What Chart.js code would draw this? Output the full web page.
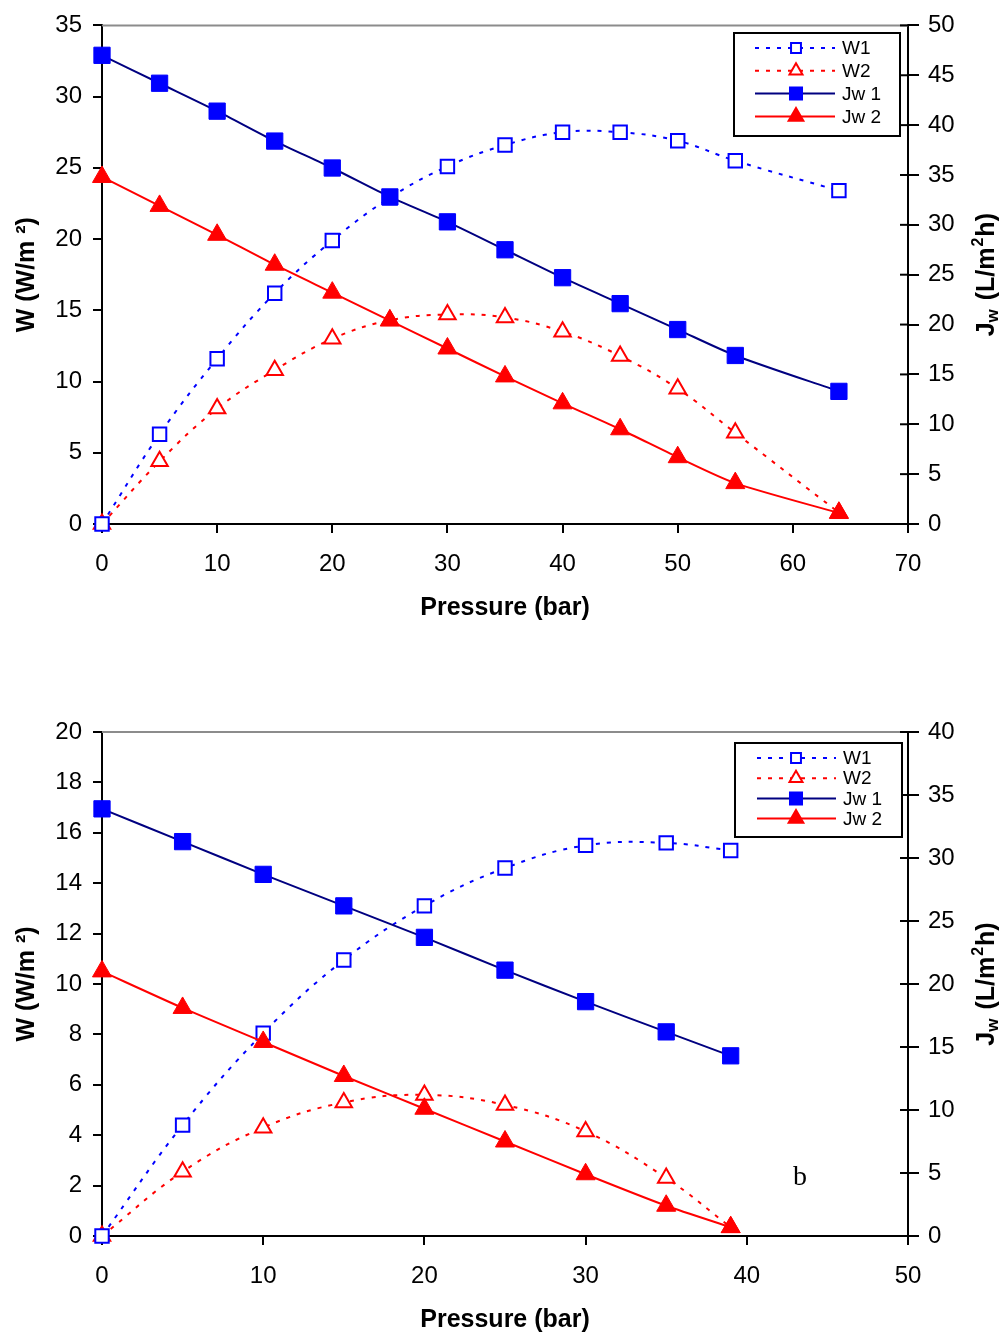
<!DOCTYPE html>
<html><head><meta charset="utf-8">
<script src="https://cdn.jsdelivr.net/npm/chart.js@4.4.1/dist/chart.umd.min.js"></script>
<style>
html,body{margin:0;padding:0;background:#fff;overflow:hidden;width:1003px;height:1336px;}
.wrap{position:absolute;left:0;width:1003px;}
</style></head><body>
<div class="wrap" style="top:0;height:660px"><canvas id="c1"></canvas></div>
<div class="wrap" style="top:700px;height:636px"><canvas id="c2"></canvas></div>
<script>
// ---------- data ----------
const pressureA = [0, 5, 10, 15, 20, 25, 30, 35, 40, 45, 50, 55, 64];
const w1A  = [0, 6.3, 11.6, 16.2, 19.9, 22.9, 25.1, 26.6, 27.5, 27.5, 26.9, 25.5, 23.4];
const w2A  = [0, 4.4, 8.1, 10.8, 13.0, 14.3, 14.7, 14.5, 13.5, 11.8, 9.5, 6.4, 0.8];
const jw1A = [47.0, 44.2, 41.4, 38.4, 35.7, 32.8, 30.3, 27.5, 24.7, 22.1, 19.5, 16.9, 13.3];
const jw2A = [34.8, 31.9, 29.0, 26.0, 23.2, 20.4, 17.6, 14.8, 12.1, 9.5, 6.7, 4.1, 1.1];

const pressureB = [0, 5, 10, 15, 20, 25, 30, 35, 39];
const w1B  = [0, 4.4, 8.05, 10.95, 13.1, 14.6, 15.5, 15.6, 15.3];
const w2B  = [0, 2.55, 4.3, 5.3, 5.6, 5.2, 4.15, 2.3, 0.35];
const jw1B = [33.9, 31.3, 28.7, 26.2, 23.7, 21.1, 18.6, 16.2, 14.3];
const jw2B = [21.0, 18.1, 15.4, 12.7, 10.1, 7.5, 4.9, 2.4, 0.7];

const seriesLabels = ['W1', 'W2', 'Jw 1', 'Jw 2'];
const xTitle = 'Pressure (bar)';
const leftTitle = 'W (W/m ²)';
const rightTitleParts = ['J', 'w', ' (L/m', '2', 'h)'];
const noteText = 'b';

// ---------- styling ----------
const FONT = "'Liberation Sans', Arial, Helvetica, sans-serif";
Chart.defaults.font.family = FONT;
Chart.defaults.color = '#000';

const styles = [
  {borderColor:'#0000FF', borderDash:[4,7], borderWidth:2, pointStyle:'rect', pointRadius:9.5, pointBackgroundColor:'#fff', pointBorderColor:'#0000FF', pointBorderWidth:2, tension:0.4, yAxisID:'yL', order:2, lg:{r:7}},
  {borderColor:'#FF0000', borderDash:[4,7], borderWidth:2, pointStyle:'triangle', pointRadius:9.5, pointBackgroundColor:'#fff', pointBorderColor:'#FF0000', pointBorderWidth:2, tension:0.4, yAxisID:'yL', order:2, lg:{r:7.5}},
  {borderColor:'#000080', borderDash:[], borderWidth:2, pointStyle:'rect', pointRadius:11.5, pointBackgroundColor:'#0000FF', pointBorderColor:'#0000FF', pointBorderWidth:1, tension:0.25, yAxisID:'yR', order:1, lg:{r:8.5}},
  {borderColor:'#FF0000', borderDash:[], borderWidth:2, pointStyle:'triangle', pointRadius:11, pointBackgroundColor:'#FF0000', pointBorderColor:'#FF0000', pointBorderWidth:1, tension:0.25, yAxisID:'yR', order:1, lg:{r:8.5}}
];

function mkDataset(i, xs, ys) {
  const s = styles[i];
  return {
    label: seriesLabels[i],
    data: xs.map((x, k) => ({x: x, y: ys[k]})),
    yAxisID: s.yAxisID, borderColor: s.borderColor, borderDash: s.borderDash, borderWidth: s.borderWidth,
    pointStyle: s.pointStyle, pointRadius: s.pointRadius, pointHoverRadius: s.pointRadius,
    pointBackgroundColor: s.pointBackgroundColor, pointBorderColor: s.pointBorderColor,
    pointBorderWidth: s.pointBorderWidth, tension: s.tension, fill: false, clip: false, order: s.order
  };
}

const decor = {
  id: 'decor',
  beforeDatasetsDraw(chart, args, o) {
    const {ctx, chartArea: a} = chart;
    ctx.save();
    ctx.strokeStyle = '#8c8c8c'; ctx.lineWidth = 2;
    ctx.beginPath(); ctx.moveTo(a.left, a.top); ctx.lineTo(a.right, a.top); ctx.stroke();
    const yR = chart.scales.yR;
    ctx.strokeStyle = '#000'; ctx.lineWidth = 2;
    yR.ticks.forEach(t => {
      const y = yR.getPixelForValue(t.value);
      ctx.beginPath(); ctx.moveTo(a.right - 8, y); ctx.lineTo(a.right, y); ctx.stroke();
    });
    ctx.restore();
  },
  afterDraw(chart, args, o) {
    const {ctx, chartArea: a} = chart;
    ctx.save();
    // right axis title (rotated, reading upward) with subscript / superscript
    const sizes = [25, 17, 25, 16, 25];
    const dys = [0, 6, 0, -8, 0];
    const gaps = [0, 2, 1, 1, 0];
    let widths = rightTitleParts.map((t, i) => { ctx.font = 'bold ' + sizes[i] + 'px ' + FONT; return ctx.measureText(t).width + gaps[i]; });
    const total = widths.reduce((p, c) => p + c, 0);
    ctx.translate(o.rtX, (a.top + a.bottom) / 2);
    ctx.rotate(-Math.PI / 2);
    ctx.textBaseline = 'middle'; ctx.textAlign = 'left'; ctx.fillStyle = '#000';
    let x = -total / 2;
    rightTitleParts.forEach((t, i) => {
      ctx.font = 'bold ' + sizes[i] + 'px ' + FONT;
      ctx.fillText(t, x, dys[i]);
      x += widths[i];
    });
    ctx.restore();

    // legend
    const L = o.legend;
    ctx.save();
    ctx.fillStyle = '#fff';
    ctx.fillRect(L.x, L.y, L.w, L.h);
    ctx.strokeStyle = '#000'; ctx.lineWidth = 2;
    ctx.strokeRect(L.x, L.y, L.w, L.h);
    chart.data.datasets.forEach((ds, i) => {
      const y = L.row0 + i * L.rowH;
      const s = styles[i];
      ctx.save();
      ctx.strokeStyle = ds.borderColor; ctx.lineWidth = ds.borderWidth;
      ctx.setLineDash(ds.borderDash || []);
      ctx.beginPath(); ctx.moveTo(L.lx0, y); ctx.lineTo(L.lx1, y); ctx.stroke();
      ctx.restore();
      ctx.save();
      ctx.fillStyle = ds.pointBackgroundColor; ctx.strokeStyle = ds.pointBorderColor;
      Chart.helpers.drawPoint(ctx, {pointStyle: ds.pointStyle, radius: s.lg.r, rotation: 0, borderWidth: ds.pointBorderWidth}, L.mx, y);
      ctx.restore();
      ctx.fillStyle = '#000'; ctx.font = '19px ' + FONT;
      ctx.textBaseline = 'middle'; ctx.textAlign = 'left';
      ctx.fillText(ds.label, L.tx, y + 1);
    });
    ctx.restore();

    if (o.note) {
      ctx.save();
      ctx.font = '28px "Liberation Serif", "Times New Roman", serif';
      ctx.fillStyle = '#000'; ctx.textAlign = 'center'; ctx.textBaseline = 'middle';
      ctx.fillText(noteText, chart.scales.x.getPixelForValue(o.note.x), chart.scales.yL.getPixelForValue(o.note.y));
      ctx.restore();
    }
  }
};

function makeChart(id, c) {
  return new Chart(document.getElementById(id), {
    type: 'line',
    data: {datasets: [
      mkDataset(0, c.x, c.w1), mkDataset(1, c.x, c.w2), mkDataset(2, c.x, c.jw1), mkDataset(3, c.x, c.jw2)
    ]},
    options: {
      responsive: true, maintainAspectRatio: false, animation: false,
      layout: {padding: {top: c.padTop, left: 0, right: 0, bottom: 0}},
      plugins: {legend: {display: false}, tooltip: {enabled: false}, decor: c.decor},
      scales: {
        x: {
          type: 'linear', position: 'bottom', min: 0, max: c.xMax,
          ticks: {stepSize: 10, font: {size: 24}, padding: 17, maxRotation: 0},
          grid: {drawOnChartArea: false, drawTicks: true, tickLength: 9, color: '#000', lineWidth: 2},
          border: {display: true, color: '#000', width: 2},
          title: {display: true, text: xTitle, font: {size: 25, weight: 'bold'}, padding: {top: 0, bottom: c.xTitlePad}},
          afterFit(s) { s.height = c.xH; }
        },
        yL: {
          type: 'linear', position: 'left', min: 0, max: c.yLMax,
          ticks: {stepSize: c.yLStep, font: {size: 24}, padding: 11},
          grid: {drawOnChartArea: false, drawTicks: true, tickLength: 9, color: '#000', lineWidth: 2},
          border: {display: true, color: '#000', width: 2},
          title: {display: true, text: leftTitle, font: {size: 25, weight: 'bold'}, padding: {top: 12, bottom: 0}},
          afterFit(s) { s.width = 102; }
        },
        yR: {
          type: 'linear', position: 'right', min: 0, max: c.yRMax,
          ticks: {stepSize: 5, font: {size: 24}, padding: 9},
          grid: {drawOnChartArea: false, drawTicks: true, tickLength: 11, color: '#000', lineWidth: 2},
          border: {display: true, color: '#000', width: 2},
          afterFit(s) { s.width = 95; }
        }
      }
    },
    plugins: [decor]
  });
}

makeChart('c1', {
  x: pressureA, w1: w1A, w2: w2A, jw1: jw1A, jw2: jw2A,
  xMax: 70, yLMax: 35, yLStep: 5, yRMax: 50, padTop: 22, xH: 136, xTitlePad: 37,
  decor: {rtX: 987, legend: {x: 734, y: 33, w: 166, h: 103, row0: 48, rowH: 22.8, lx0: 755, lx1: 835, mx: 796, tx: 842}}
});
makeChart('c2', {
  x: pressureB, w1: w1B, w2: w2B, jw1: jw1B, jw2: jw2B,
  xMax: 50, yLMax: 20, yLStep: 2, yRMax: 40, padTop: 32, xH: 100, xTitlePad: 1,
  decor: {rtX: 987, legend: {x: 735, y: 43, w: 167, h: 94, row0: 58, rowH: 20.2, lx0: 757, lx1: 836, mx: 796, tx: 843},
          note: {x: 43.3, y: 2.3}}
});
</script>
</body></html>
